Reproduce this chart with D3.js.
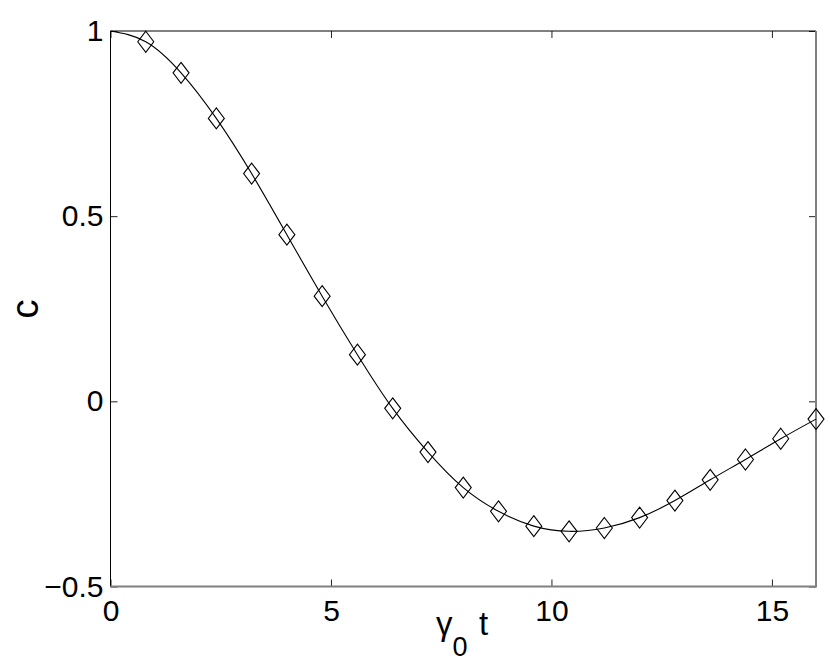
<!DOCTYPE html>
<html>
<head>
<meta charset="utf-8">
<script src="https://cdn.jsdelivr.net/npm/d3@7"></script>
<style>
  html, body { margin: 0; padding: 0; background: #fff; }
  svg { display: block; }
  text { font-family: "Liberation Sans", Arial, Helvetica, sans-serif; fill: #000; }
</style>
</head>
<body>
<svg id="chart" width="830" height="663"></svg>
<script>
// ---- data ----
const markerT = [0.8, 1.6, 2.4, 3.2, 4.0, 4.8, 5.6, 6.4, 7.2, 8.0, 8.8, 9.6, 10.4, 11.2, 12.0, 12.8, 13.6, 14.4, 15.2, 16.0];
const markerC = [0.971, 0.887, 0.764, 0.615, 0.450, 0.284, 0.126, -0.019, -0.137, -0.233, -0.297, -0.337, -0.351, -0.342, -0.314, -0.268, -0.212, -0.157, -0.101, -0.048];
const lineT = [0].concat(markerT);
const lineC = [1.0].concat(markerC);
const xTicks = [0, 5, 10, 15];
const yTicks = [-0.5, 0, 0.5, 1];
const yTickLabels = ["\u22120.5", "0", "0.5", "1"];

// ---- layout ----
const svg = d3.select("#chart");
const L = 110.5, R = 816, T = 31, B = 586.5;
const x = d3.scaleLinear().domain([0, 16]).range([L, R]);
const y = d3.scaleLinear().domain([-0.5, 1]).range([B, T]);

// axes with inward ticks
const tickLen = 7;
const fs = 30;

const gB = svg.append("g").attr("transform", `translate(0,${B})`)
  .call(d3.axisBottom(x).tickValues(xTicks).tickSize(-tickLen).tickPadding(13).tickFormat(d3.format("d")));
const gL = svg.append("g").attr("transform", `translate(${L},0)`)
  .call(d3.axisLeft(y).tickValues(yTicks).tickSize(-tickLen).tickPadding(7).tickFormat((d, i) => yTickLabels[i]));
const gT = svg.append("g").attr("transform", `translate(0,${T})`)
  .call(d3.axisTop(x).tickValues(xTicks).tickSize(-tickLen).tickFormat(""));
const gR = svg.append("g").attr("transform", `translate(${R},0)`)
  .call(d3.axisRight(y).tickValues(yTicks).tickSize(-tickLen).tickFormat(""));

[gB, gL, gT, gR].forEach(g => {
  g.attr("font-size", fs).attr("font-family", "Liberation Sans, Arial, sans-serif");
  g.select(".domain").remove();
  g.selectAll(".tick line").attr("stroke", "#222").attr("stroke-width", 1);
  g.selectAll(".tick text").attr("fill", "#000");
});

// frame
svg.append("line").attr("x1", L).attr("x2", L).attr("y1", T).attr("y2", B).attr("stroke", "#000").attr("stroke-width", 1);
svg.append("line").attr("x1", L).attr("x2", R).attr("y1", T).attr("y2", T).attr("stroke", "#000").attr("stroke-width", 1);
svg.append("line").attr("x1", L).attr("x2", R + 1).attr("y1", B).attr("y2", B).attr("stroke", "#808080").attr("stroke-width", 2);
svg.append("line").attr("x1", R).attr("x2", R).attr("y1", T).attr("y2", B).attr("stroke", "#808080").attr("stroke-width", 2);

// curve
const lineData = lineT.map((t, i) => [t, lineC[i]]);
svg.append("path")
  .attr("d", d3.line().x(d => x(d[0])).y(d => y(d[1])).curve(d3.curveNatural)(lineData))
  .attr("fill", "none").attr("stroke", "#000").attr("stroke-width", 1.1);

// diamond markers
const hw = 8, hh = 10.5;
svg.append("g").selectAll("path").data(markerT.map((t, i) => [t, markerC[i]])).join("path")
  .attr("d", d => {
    const cx = x(d[0]), cy = y(d[1]);
    return `M${cx},${cy - hh}L${cx + hw},${cy}L${cx},${cy + hh}L${cx - hw},${cy}Z`;
  })
  .attr("fill", "none").attr("stroke", "#000").attr("stroke-width", 1.1);

// axis labels
svg.append("text")
  .attr("transform", "translate(37.5,309) rotate(-90)")
  .attr("text-anchor", "middle")
  .attr("font-size", 38)
  .text("c");

const xl = svg.append("text").attr("x", 436).attr("y", 635).attr("font-size", 33);
xl.append("tspan").text("\u03b3");
xl.append("tspan").attr("font-size", 27).attr("dy", 21).text("0");
xl.append("tspan").attr("x", 479).attr("dy", -21).text("t");
</script>
</body>
</html>
